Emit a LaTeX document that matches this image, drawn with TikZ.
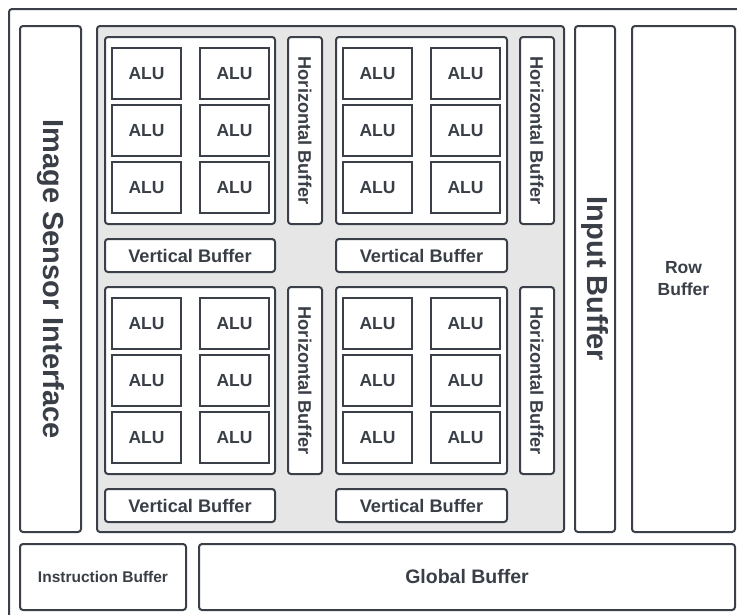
\documentclass[tikz,border=0pt]{standalone}
\usepackage{fontspec}
\setmainfont{Liberation Sans}
\definecolor{ln}{HTML}{3B4048}
\definecolor{tx}{HTML}{3A3F47}
\definecolor{pn}{HTML}{E6E6E6}
\begin{document}
\begin{tikzpicture}[x=1pt,y=-1pt,
  box/.style={draw=ln, line width=2pt, rounded corners=3pt, fill=white, inner sep=0pt, outer sep=0pt, text=tx, align=center, font=\bfseries\fontsize{18.2pt}{22pt}\selectfont},
  alu/.style={box, sharp corners, minimum width=69pt, minimum height=51pt, font=\bfseries\fontsize{17.5pt}{21pt}\selectfont},
  grp/.style={box, minimum width=170pt, minimum height=187pt},
  hbuf/.style={box, rotate=-90, minimum width=187pt, minimum height=34pt},
  vbuf/.style={box, minimum width=170pt, minimum height=33pt},
  tall/.style={box, minimum height=506pt},
  bigtext/.style={font=\bfseries\fontsize{29pt}{34pt}\selectfont}
]
\useasboundingbox (0,0) rectangle (737,614);
\begin{scope}
\clip (0,0) rectangle (737,614);
\draw[draw=ln, line width=2pt, rounded corners=3pt] (9,9) rectangle (760,640);
\end{scope}

% outer columns
\node[box, bigtext, rotate=-90, minimum width=506pt, minimum height=61pt] (isi) at (50.5,279) {Image Sensor Interface};
\node[box, fill=pn, minimum width=467pt, minimum height=506pt] (panel) at (330.5,279) {};
\node[box, bigtext, rotate=-90, minimum width=506pt, minimum height=40pt] (inb) at (595,279) {Input Buffer};
\node[box, tall, minimum width=103pt, font=\bfseries\fontsize{17.5pt}{22pt}\selectfont] (rowb) at (683.5,279) {Row\\Buffer};
\node[box, minimum width=166pt, minimum height=66pt, font=\bfseries\fontsize{15.5pt}{18pt}\selectfont] (instr) at (103,577) {Instruction Buffer};
\node[box, minimum width=536pt, minimum height=66pt, font=\bfseries\fontsize{19.5pt}{23pt}\selectfont] (glob) at (467,577) {Global Buffer};

% groups
\node[grp] (g1) at (190,130.5) {};
\node[grp, minimum width=171pt] (g2) at (421.5,130.5) {};
\node[grp] (g3) at (190,380.5) {};
\node[grp, minimum width=171pt] (g4) at (421.5,380.5) {};

% horizontal buffers
\node[hbuf] (hb1) at (305,130.5) {Horizontal Buffer};
\node[hbuf] (hb2) at (537,130.5) {Horizontal Buffer};
\node[hbuf] (hb3) at (305,380.5) {Horizontal Buffer};
\node[hbuf] (hb4) at (537,380.5) {Horizontal Buffer};

% vertical buffers
\node[vbuf] (vb1) at (190,255.5) {Vertical Buffer};
\node[vbuf, minimum width=171pt] (vb2) at (421.5,255.5) {Vertical Buffer};
\node[vbuf] (vb3) at (190,505.5) {Vertical Buffer};
\node[vbuf, minimum width=171pt] (vb4) at (421.5,505.5) {Vertical Buffer};

% ALUs
\foreach \gx/\gy/\g in {0/0/a, 231/0/b, 0/250/c, 231/250/d}{
  \foreach \cx/\c in {146.5/1, 234.5/2}{
    \foreach \ry/\r in {73.5/1, 130.5/2, 187.5/3}{
      \node[alu] (alu\g\c\r) at (\cx+\gx, \ry+\gy) {ALU};
    }
  }
}
\end{tikzpicture}
\end{document}
